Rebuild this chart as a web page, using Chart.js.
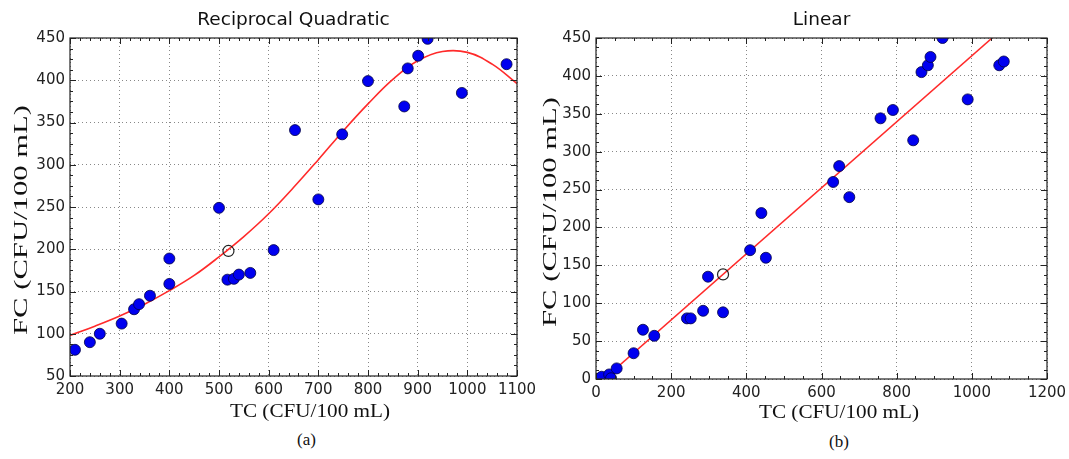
<!DOCTYPE html>
<html>
<head>
<meta charset="utf-8">
<script src="https://cdn.jsdelivr.net/npm/chart.js@4"></script>
<style>
  html, body { margin: 0; padding: 0; background: #fff; overflow: hidden; }
  body { width: 1069px; height: 459px; position: relative; }
  .box { position: absolute; top: 0; height: 430px; }
  .cap { position: absolute; font-family: "Liberation Serif", serif; font-size: 17px; color: #111; }
</style>
</head>
<body>
<div class="box" style="left:0; width:535px;"><canvas id="quad"></canvas></div>
<div class="box" style="left:540px; width:529px;"><canvas id="lin"></canvas></div>
<div class="cap" style="left:297px; top:430px;">(a)</div>
<div class="cap" style="left:829px; top:432px;">(b)</div>
<script>
// (a) reciprocal quadratic fit: observations
const quadTC = [210, 240, 260, 304, 329, 339, 361, 400, 400, 500, 517, 530, 540, 563, 610, 653, 700, 748, 800, 873, 880, 901, 920, 989, 1079];
const quadFC = [81, 90, 100, 112, 129, 135, 145, 159, 189, 249, 164, 165, 170, 172, 199, 341, 259, 336, 399, 369, 414, 429, 449, 385, 419];
const quadOpen = [{x: 519, y: 198}];
// fitted curve
const quadCurveTC = [200, 250, 300, 350, 400, 450, 500, 550, 600, 650, 700, 750, 800, 850, 900, 950, 1000, 1050, 1100];
const quadCurveFC = [98, 109, 121, 135, 151, 169, 191, 215, 242, 273, 306, 340, 372, 401, 423, 434, 433, 419, 396];

// (b) linear fit: observations
const linTC = [8, 15, 35, 40, 55, 100, 125, 155, 242, 252, 285, 298, 338, 410, 440, 452, 631, 647, 674, 757, 790, 844, 866, 883, 890, 922, 989, 1073, 1085];
const linFC = [0, 3, 6, 1, 14, 34, 65, 57, 80, 80, 90, 135, 88, 170, 219, 160, 260, 281, 240, 344, 355, 315, 405, 414, 425, 450, 369, 414, 419];
const linOpen = [{x: 338, y: 138}];
const linLineTC = [21, 1054];
const linLineFC = [0, 450];

const pts = (xs, ys) => xs.map((x, i) => ({x: x, y: ys[i]}));

const tickFont = {family: 'DejaVu Sans', size: 15};

// box round the axes, with inward major and minor tick marks
const frameTicks = {
  id: 'frameTicks',
  afterDatasetsDraw(chart, args, opts) {
    const {ctx, chartArea: a, scales: {x, y}} = chart;
    ctx.save();
    ctx.strokeStyle = '#222';
    ctx.lineWidth = 1;
    ctx.beginPath();
    const mark = (scale, step, len, horiz) => {
      for (let v = scale.min; v <= scale.max + 1e-6; v += step) {
        const p = Math.round(scale.getPixelForValue(v)) + 0.5;
        if (horiz) {
          ctx.moveTo(p, a.bottom); ctx.lineTo(p, a.bottom - len);
          ctx.moveTo(p, a.top); ctx.lineTo(p, a.top + len);
        } else {
          ctx.moveTo(a.left, p); ctx.lineTo(a.left + len, p);
          ctx.moveTo(a.right, p); ctx.lineTo(a.right - len, p);
        }
      }
    };
    mark(x, opts.xMajor, 6, true);
    mark(x, opts.xMajor / opts.xDiv, 3, true);
    mark(y, opts.yMajor, 6, false);
    mark(y, opts.yMajor / opts.yDiv, 3, false);
    ctx.stroke();
    ctx.lineWidth = 1.2;
    ctx.strokeRect(a.left, a.top, a.right - a.left, a.bottom - a.top);
    ctx.restore();
  }
};

// serif axis labels, stretched to the length they have in the figure
const axisTitles = {
  id: 'axisTitles',
  afterDraw(chart, args, o) {
    const ctx = chart.ctx;
    const draw = (text, pos, len, size, rot) => {
      ctx.save();
      ctx.font = size + 'px "Liberation Serif"';
      ctx.fillStyle = '#111';
      ctx.textAlign = 'center';
      ctx.textBaseline = 'middle';
      ctx.translate(pos[0], pos[1]);
      ctx.rotate(rot);
      ctx.scale(len / ctx.measureText(text).width, 1);
      ctx.fillText(text, 0, 0);
      ctx.restore();
    };
    draw('TC (CFU/100 mL)', o.xPos, 160, 19, 0);
    draw('FC (CFU/100 mL)', o.yPos, 230, 18, -Math.PI / 2);
  }
};

function makeChart(id, cfg) {
  const grid = {color: '#888', drawTicks: false};
  const border = {display: false, dash: [1, 3]};
  return new Chart(document.getElementById(id), {
    type: 'scatter',
    data: {
      datasets: [
        {data: cfg.points, backgroundColor: '#0000f0', borderColor: '#000044', borderWidth: 0.8,
         pointRadius: 5.5, pointHoverRadius: 5.5, clip: 0, order: 1},
        {data: cfg.open, backgroundColor: 'rgba(0,0,0,0)', borderColor: '#222', borderWidth: 1.2,
         pointRadius: 5.5, pointHoverRadius: 5.5, clip: 0, order: 1},
        {data: cfg.curve, showLine: true, pointRadius: 0, borderColor: '#ff2a2a', borderWidth: 1.6,
         tension: cfg.tension, clip: 0, order: 2}
      ]
    },
    options: {
      responsive: true,
      maintainAspectRatio: false,
      animation: false,
      layout: {padding: {left: 0, right: cfg.padRight, top: 0, bottom: 0}},
      plugins: {
        legend: {display: false},
        tooltip: {enabled: false},
        title: {display: true, text: cfg.title, fullSize: false, color: '#111',
                font: {family: 'DejaVu Sans', size: 18.5, weight: 'normal'}, padding: {top: 9, bottom: 6.8}},
        frameTicks: {xMajor: cfg.xStep, xDiv: cfg.xDiv, yMajor: 50, yDiv: 4},
        axisTitles: {xPos: cfg.xTitlePos, yPos: cfg.yTitlePos}
      },
      scales: {
        x: {
          type: 'linear', min: cfg.xMin, max: cfg.xMax,
          grid: grid, border: border,
          ticks: {stepSize: cfg.xStep, font: tickFont, color: '#222', padding: 5, maxRotation: 0,
                  callback: (v) => String(v)},
          afterFit(s) { s.height = cfg.xHeight; s.paddingLeft = 0; s.paddingRight = 0; }
        },
        y: {
          type: 'linear', min: cfg.yMin, max: cfg.yMax,
          grid: grid, border: border,
          ticks: {stepSize: 50, font: tickFont, color: '#222', padding: 5, callback: (v) => String(v)},
          afterFit(s) { s.width = cfg.yWidth; s.paddingTop = 0; s.paddingBottom = 0; }
        }
      }
    },
    plugins: [frameTicks, axisTitles]
  });
}

makeChart('quad', {
  title: 'Reciprocal Quadratic',
  points: pts(quadTC, quadFC), open: quadOpen, curve: pts(quadCurveTC, quadCurveFC), tension: 0.4,
  xMin: 200, xMax: 1100, xStep: 100, xDiv: 5, yMin: 50, yMax: 450,
  yWidth: 70, xHeight: 54, padRight: 18, xTitlePos: [310, 412], yTitlePos: [22, 220]
});

makeChart('lin', {
  title: 'Linear',
  points: pts(linTC, linFC), open: linOpen, curve: pts(linLineTC, linLineFC), tension: 0,
  xMin: 0, xMax: 1200, xStep: 200, xDiv: 4, yMin: 0, yMax: 450,
  yWidth: 56, xHeight: 51, padRight: 22, xTitlePos: [299, 413], yTitlePos: [11, 212]
});
</script>
</body>
</html>
